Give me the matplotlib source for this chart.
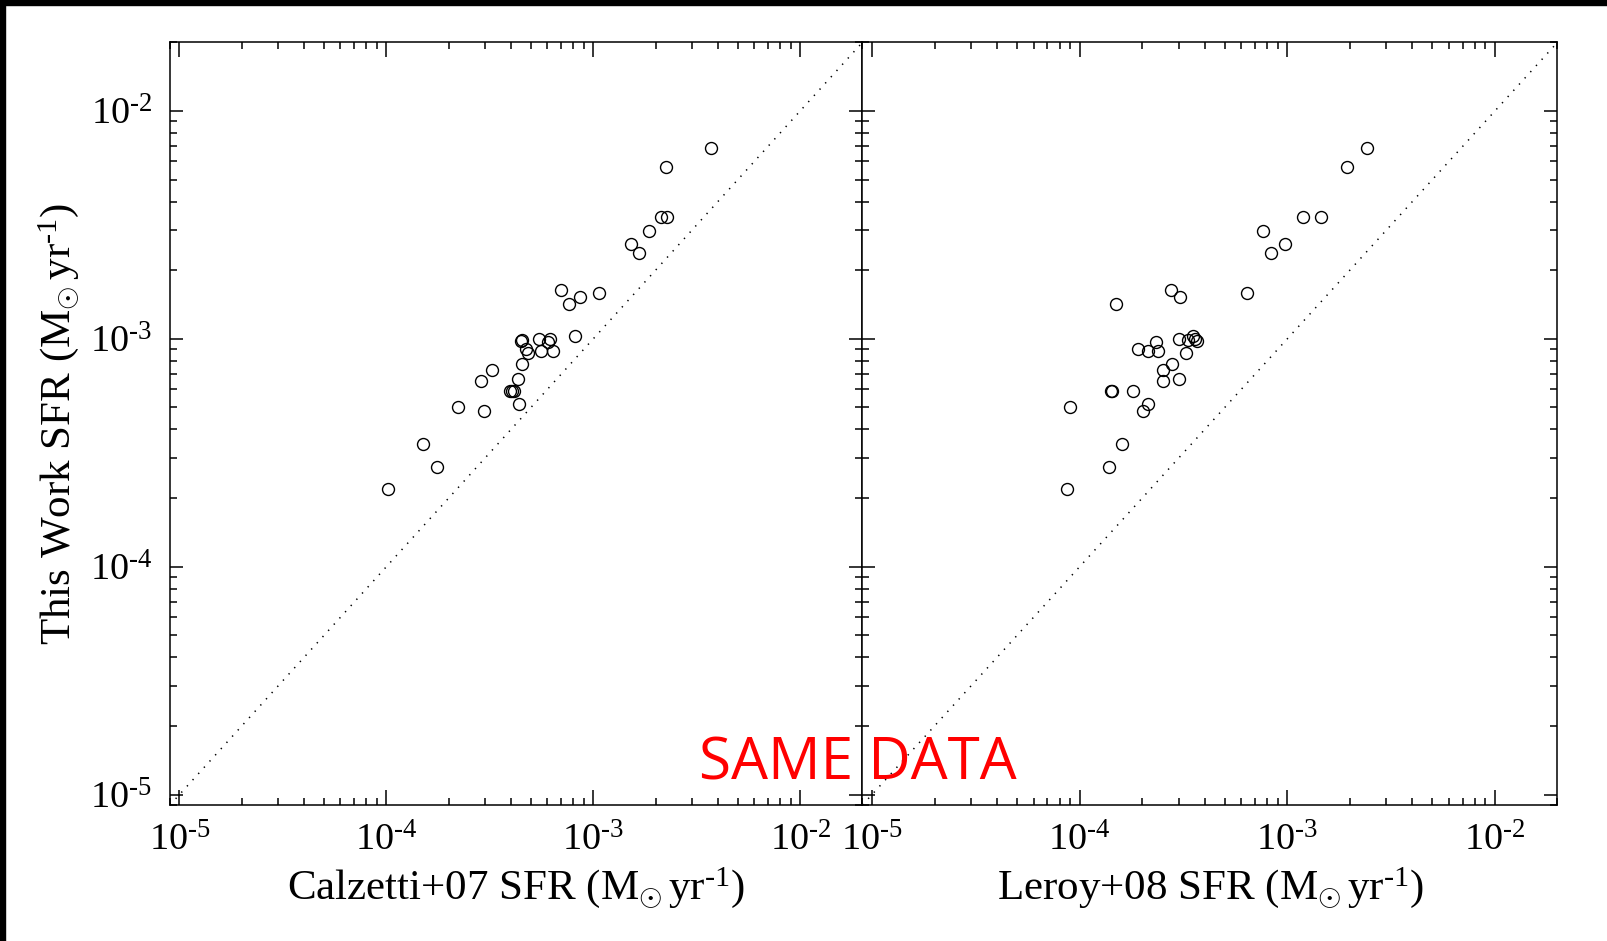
import math

import matplotlib
matplotlib.use("Agg")
import matplotlib.pyplot as plt
from matplotlib.patches import Rectangle
from matplotlib.ticker import FuncFormatter, LogLocator, NullFormatter

# star formation rates in Msun/yr, one entry per galaxy
this_work_sfr = [6.86e-3, 5.70e-3, 3.44e-3, 3.44e-3, 2.96e-3, 2.61e-3, 2.38e-3,
                 1.63e-3, 1.52e-3, 1.42e-3, 1.59e-3, 1.03e-3, 1.00e-3, 1.00e-3,
                 9.64e-4, 8.83e-4, 8.83e-4, 9.77e-4, 9.87e-4, 9.01e-4, 8.65e-4,
                 7.79e-4, 7.33e-4, 6.50e-4, 6.68e-4, 5.93e-4, 5.93e-4, 5.93e-4,
                 5.18e-4, 5.01e-4, 4.83e-4, 3.47e-4, 2.75e-4, 2.20e-4]
calzetti_sfr = [3.71e-3, 2.25e-3, 2.13e-3, 2.26e-3, 1.85e-3, 1.52e-3, 1.67e-3,
                7.00e-4, 8.59e-4, 7.62e-4, 1.06e-3, 8.17e-4, 5.47e-4, 6.18e-4,
                6.06e-4, 5.57e-4, 6.37e-4, 4.47e-4, 4.53e-4, 4.72e-4, 4.84e-4,
                4.54e-4, 3.24e-4, 2.88e-4, 4.35e-4, 3.96e-4, 4.06e-4, 4.14e-4,
                4.36e-4, 2.21e-4, 2.97e-4, 1.50e-4, 1.76e-4, 1.02e-4]
leroy_sfr = [2.43e-3, 1.93e-3, 1.19e-3, 1.45e-3, 7.61e-4, 9.75e-4, 8.38e-4,
             2.75e-4, 3.03e-4, 1.49e-4, 6.37e-4, 3.53e-4, 3.00e-4, 3.58e-4,
             2.32e-4, 2.14e-4, 2.39e-4, 3.66e-4, 3.31e-4, 1.91e-4, 3.24e-4,
             2.78e-4, 2.51e-4, 2.51e-4, 3.02e-4, 1.41e-4, 1.43e-4, 1.80e-4,
             2.14e-4, 8.99e-5, 2.02e-4, 1.60e-4, 1.39e-4, 8.67e-5]

sfr_range = [9e-6, 2e-2]
x_labels = [r"Calzetti+07 SFR (M$_{\odot}\,$yr$^{\text{-1}}$)",
            r"Leroy+08 SFR (M$_{\odot}\,$yr$^{\text{-1}}$)"]
y_label = r"This Work SFR (M$_{\odot}\,$yr$^{\text{-1}}$)"

plt.rcParams.update({
    "font.family": ["Liberation Serif", "DejaVu Serif"],
    "mathtext.fontset": "custom",
    "mathtext.rm": "Liberation Serif",
    "mathtext.it": "Liberation Serif:italic",
    "mathtext.bf": "Liberation Serif:bold",
    "axes.unicode_minus": False,
    "axes.linewidth": 1.1,
})


def power_label(value, _pos):
    """10^n with a plain hyphen in the exponent, IDL style."""
    exp = int(round(math.log10(value)))
    return r"10$^{\text{%d}}$" % exp


fig = plt.figure(figsize=(16.08, 9.41), dpi=100)
fig.patch.set_facecolor("white")

panels = [[0.10572, 0.14453, 0.43066, 0.81052],
          [0.53638, 0.14453, 0.43221, 0.81052]]

for i, (rect, xdata) in enumerate(zip(panels, [calzetti_sfr, leroy_sfr])):
    ax = fig.add_axes(rect)
    ax.set_xscale("log")
    ax.set_yscale("log")
    ax.set_xlim(sfr_range)
    ax.set_ylim(sfr_range)
    ax.plot(sfr_range, sfr_range, color="black", lw=1.1,
            linestyle=(0, (0.9, 4.6)))
    ax.plot(xdata, this_work_sfr, linestyle="none", marker="o",
            markersize=8.6, markerfacecolor="none",
            markeredgecolor="black", markeredgewidth=1.0)

    for axis in (ax.xaxis, ax.yaxis):
        axis.set_major_locator(LogLocator(base=10, numticks=10))
        axis.set_minor_locator(LogLocator(base=10, subs=range(2, 10),
                                          numticks=20))
        axis.set_major_formatter(FuncFormatter(power_label))
        axis.set_minor_formatter(NullFormatter())
    ax.tick_params(axis="both", which="both", direction="in",
                   top=True, right=True, width=1.1, color="black",
                   labelsize=27.5)
    ax.tick_params(axis="x", which="major", length=10.8, pad=13)
    ax.tick_params(axis="x", which="minor", length=5.0)
    ax.tick_params(axis="y", which="major", length=9.6, pad=13)
    ax.tick_params(axis="y", which="minor", length=4.7)

    ax.set_xlabel(x_labels[i], fontsize=31, labelpad=5)
    if i == 0:
        ax.set_ylabel(y_label, fontsize=31, labelpad=6)
    else:
        ax.tick_params(axis="y", which="both", labelleft=False)

fig.text(0.5336, 0.172, "SAME DATA", color="#ff0000", fontsize=42,
         family="Open Sans", ha="center", va="baseline")

# black band along the top and left edges of the picture
fig.patches.append(Rectangle((0, 1 - 5 / 941), 1, 5 / 941,
                             transform=fig.transFigure, color="black",
                             zorder=10))
fig.patches.append(Rectangle((0, 0), 5 / 1608, 1,
                             transform=fig.transFigure, color="black",
                             zorder=10))

fig.savefig("out.png", dpi=100, facecolor="white")
